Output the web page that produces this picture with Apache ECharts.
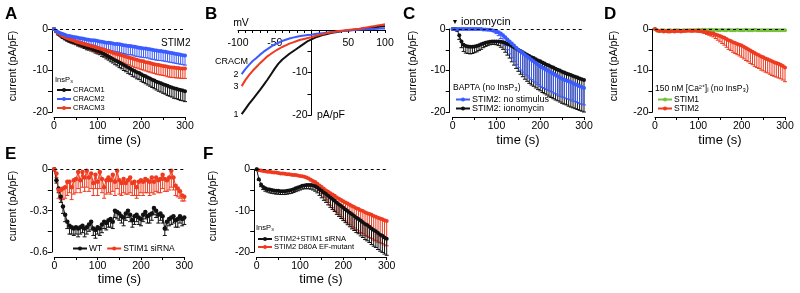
<!DOCTYPE html>
<html><head><meta charset="utf-8">
<script src="https://cdn.jsdelivr.net/npm/echarts@6/dist/echarts.min.js"></script>
<style>html,body{margin:0;padding:0;background:#fff}#c{width:800px;height:293px}</style>
</head><body><div id="c"></div>
<script>
// ---------- DATA ----------
const time = [0,5,10,15,20,25,30,35,40,45,50,55,60,65,70,75,80,85,90,95,100,105,110,115,120,125,130,135,140,145,150,155,160,165,170,175,180,185,190,195,200,205,210,215,220,225,230,235,240,245,250,255,260,265,270,275,280,285,290,295,300];

// Panel A (STIM2, InsP3)
const A_CRACM1 = [0,-0.6,-1.2,-1.6,-2.0,-2.3,-2.6,-2.8,-3.0,-3.2,
-3.4,-3.6,-3.8,-4.0,-4.2,-4.4,-4.5,-4.7,-4.9,-5.1,
-5.3,-5.5,-5.8,-6.0,-6.3,-6.6,-6.9,-7.2,-7.5,-7.8,
-8.1,-8.4,-8.7,-9.0,-9.3,-9.6,-9.9,-10.1,-10.4,-10.6,
-10.9,-11.2,-11.4,-11.7,-11.9,-12.2,-12.4,-12.7,-12.9,-13.1,
-13.3,-13.5,-13.7,-13.9,-14.1,-14.3,-14.4,-14.6,-14.7,-14.8,
-15.0];
const A_CRACM1_err = [0,0.1,0.2,0.2,0.3,0.3,0.3,0.4,0.4,0.4,
0.4,0.5,0.5,0.5,0.5,0.6,0.6,0.6,0.6,0.7,
0.7,0.7,0.8,0.8,0.9,0.9,1.0,1.0,1.1,1.1,
1.2,1.2,1.3,1.3,1.4,1.4,1.5,1.5,1.6,1.6,
1.7,1.7,1.8,1.8,1.9,1.9,2.0,2.0,2.1,2.1,
2.2,2.2,2.3,2.3,2.3,2.4,2.4,2.4,2.5,2.5,
2.5];
const A_CRACM2 = [0,-0.4,-0.8,-1.0,-1.2,-1.4,-1.6,-1.7,-1.8,-1.9,
-2.0,-2.1,-2.2,-2.3,-2.4,-2.5,-2.6,-2.7,-2.7,-2.8,
-2.9,-3.0,-3.1,-3.2,-3.3,-3.3,-3.4,-3.5,-3.6,-3.6,
-3.7,-3.8,-3.9,-4.0,-4.1,-4.1,-4.2,-4.3,-4.4,-4.5,
-4.6,-4.7,-4.7,-4.8,-4.9,-5.0,-5.1,-5.2,-5.3,-5.3,
-5.4,-5.5,-5.6,-5.7,-5.8,-5.9,-6.0,-6.1,-6.2,-6.3,
-6.4];
const A_CRACM2_err = [0,0.1,0.2,0.3,0.4,0.4,0.5,0.5,0.6,0.6,
0.7,0.8,0.8,0.9,1.0,1.0,1.1,1.2,1.2,1.3,
1.4,1.5,1.5,1.6,1.7,1.7,1.8,1.8,1.9,1.9,
2.0,2.0,2.0,2.1,2.1,2.1,2.1,2.2,2.2,2.2,
2.2,2.2,2.2,2.2,2.3,2.3,2.3,2.3,2.3,2.3,
2.3,2.3,2.3,2.3,2.3,2.3,2.3,2.3,2.3,2.3,
2.3];
const A_CRACM3 = [0,-0.5,-1.0,-1.4,-1.7,-2.0,-2.2,-2.4,-2.6,-2.8,
-3.0,-3.2,-3.3,-3.5,-3.6,-3.8,-3.9,-4.1,-4.2,-4.4,
-4.6,-4.7,-4.9,-5.0,-5.2,-5.4,-5.5,-5.7,-5.9,-6.0,
-6.2,-6.3,-6.5,-6.7,-6.8,-7.0,-7.1,-7.3,-7.4,-7.6,
-7.7,-7.8,-8.0,-8.1,-8.2,-8.4,-8.5,-8.6,-8.7,-8.8,
-8.9,-9.0,-9.1,-9.2,-9.3,-9.3,-9.4,-9.4,-9.5,-9.5,
-9.5];
const A_CRACM3_err = [0,0.1,0.2,0.3,0.3,0.4,0.4,0.5,0.5,0.6,
0.6,0.7,0.7,0.8,0.8,0.9,0.9,1.0,1.0,1.1,
1.1,1.2,1.2,1.3,1.3,1.4,1.4,1.5,1.5,1.6,
1.6,1.7,1.7,1.8,1.8,1.9,1.9,2.0,2.0,2.0,
2.1,2.1,2.1,2.2,2.2,2.2,2.2,2.3,2.3,2.3,
2.3,2.3,2.4,2.4,2.4,2.4,2.4,2.4,2.4,2.4,
2.4];

// Panel B (I-V curves)
const B_mV = [-95,-90,-85,-80,-75,-70,-65,-60,-55,-50,-45,-40,-35,-30,-25,-20,-15,-10,-5,0,5,10,15,20,25,30,35,40,45,50,55,60,65,70,75,80,85,90,95,100];
const B_CRACM1 = [-19.8,-18.6,-17.4,-16.3,-15.2,-14.1,-12.9,-11.7,-10.4,-9.1,
-7.9,-7.0,-6.3,-5.6,-5.0,-4.4,-3.8,-3.2,-2.6,-2.2,
-1.8,-1.5,-1.2,-1.0,-0.8,-0.6,-0.45,-0.32,-0.2,-0.1,
0.0,0.1,0.2,0.3,0.4,0.5,0.6,0.7,0.8,0.9];
const B_CRACM2 = [-10.4,-9.2,-8.2,-7.3,-6.6,-5.8,-5.1,-4.5,-3.9,-3.4,
-3.0,-2.6,-2.3,-2.0,-1.8,-1.6,-1.4,-1.3,-1.2,-1.1,
-0.95,-0.85,-0.75,-0.65,-0.55,-0.45,-0.35,-0.27,-0.2,-0.12,
-0.05,0.0,0.05,0.1,0.15,0.2,0.25,0.3,0.33,0.35];
const B_CRACM3 = [-13.2,-11.8,-10.6,-9.6,-8.7,-7.8,-7.0,-6.2,-5.6,-5.0,
-4.5,-4.0,-3.6,-3.2,-2.9,-2.6,-2.3,-2.1,-1.9,-1.7,
-1.4,-1.2,-1.0,-0.8,-0.6,-0.45,-0.3,-0.2,-0.1,0.0,
0.1,0.2,0.3,0.45,0.6,0.75,0.9,1.05,1.2,1.35];

// Panel C (BAPTA, no InsP3)
const C_noStim = [0,0,0,0,0,0,0,0,0,0,
0,0,0,0,-0.1,-0.1,-0.2,-0.2,-0.3,-0.4,
-0.6,-0.8,-1.1,-1.5,-2.0,-2.5,-3.0,-3.5,-4.0,-4.5,
-5.0,-5.4,-5.8,-6.2,-6.6,-7.0,-7.4,-7.8,-8.2,-8.6,
-9.0,-9.3,-9.6,-9.9,-10.2,-10.5,-10.8,-11.1,-11.4,-11.7,
-12.0,-12.2,-12.4,-12.6,-12.8,-13.1,-13.3,-13.5,-13.8,-14.0,
-14.2];
const C_noStim_err = [0,0,0,0,0,0,0,0,0,0,
0,0,0,0,0,0.1,0.1,0.2,0.2,0.3,
0.5,0.8,1.2,1.6,2.0,2.5,3.0,3.4,3.8,4.1,
4.3,4.5,4.6,4.7,4.7,4.8,4.8,4.8,4.8,4.8,
4.8,4.8,4.7,4.7,4.7,4.6,4.6,4.5,4.5,4.5,
4.4,4.4,4.4,4.3,4.3,4.3,4.2,4.2,4.2,4.1,
4.1];
const C_iono = [0,0,-0.2,-1.5,-3.0,-3.8,-4.1,-4.2,-4.3,-4.3,
-4.2,-4.1,-3.9,-3.7,-3.5,-3.3,-3.2,-3.1,-3.0,-3.0,
-3.0,-3.0,-3.1,-3.2,-3.4,-3.6,-3.8,-4.1,-4.4,-4.7,
-5.0,-5.3,-5.6,-5.9,-6.2,-6.5,-6.8,-7.0,-7.3,-7.6,
-7.8,-8.1,-8.3,-8.6,-8.8,-9.1,-9.3,-9.6,-9.8,-10.0,
-10.3,-10.5,-10.7,-10.9,-11.1,-11.3,-11.5,-11.7,-11.9,-12.1,
-12.3];
const C_iono_err = [0,0,0.3,1.0,1.5,1.6,1.7,1.7,1.7,1.6,
1.5,1.4,1.3,1.2,1.0,0.9,0.8,0.7,0.7,0.7,
0.8,1.0,1.3,1.7,2.2,2.7,3.2,3.8,4.3,4.8,
5.2,5.6,5.9,6.2,6.4,6.6,6.7,6.8,6.9,7.0,
7.1,7.2,7.3,7.3,7.4,7.4,7.5,7.5,7.5,7.6,
7.6,7.6,7.6,7.7,7.7,7.7,7.7,7.7,7.7,7.7,
7.7];

// Panel D (150 nM Ca, no InsP3)
const D_STIM1 = [0,-0.4,-0.5,-0.3,-0.3,-0.4,-0.3,-0.3,-0.4,-0.3,
-0.3,-0.3,-0.4,-0.3,-0.3,-0.3,-0.3,-0.3,-0.3,-0.3,
-0.2,-0.3,-0.2,-0.2,-0.3,-0.2,-0.2,-0.3,-0.2,-0.3,
-0.3,-0.2,-0.3,-0.3,-0.2,-0.3,-0.3,-0.3,-0.2,-0.3,
-0.3,-0.3,-0.2,-0.3,-0.3,-0.3,-0.2,-0.3,-0.3,-0.3,
-0.3,-0.3,-0.3,-0.3,-0.3,-0.3,-0.3,-0.3,-0.3,-0.3,
-0.3];
const D_STIM2 = [0,-0.3,-0.5,-0.4,-0.6,-0.5,-0.6,-0.6,-0.5,-0.6,
-0.5,-0.5,-0.6,-0.5,-0.5,-0.4,-0.4,-0.5,-0.4,-0.4,
-0.5,-0.5,-0.6,-0.7,-0.8,-0.9,-1.0,-1.1,-1.3,-1.5,
-1.7,-1.9,-2.1,-2.4,-2.7,-2.9,-3.2,-3.4,-3.6,-3.8,
-4.0,-4.3,-4.6,-4.9,-5.2,-5.5,-5.8,-6.1,-6.3,-6.6,
-6.8,-7.1,-7.3,-7.5,-7.8,-8.0,-8.2,-8.4,-8.6,-8.9,
-9.3];
const D_STIM2_err = [0,0.1,0.1,0.1,0.1,0.1,0.1,0.1,0.1,0.1,
0.1,0.1,0.1,0.1,0.1,0.1,0.1,0.1,0.1,0.1,
0.2,0.2,0.3,0.4,0.5,0.6,0.7,0.8,1.0,1.2,
1.4,1.6,1.8,2.0,2.2,2.3,2.4,2.5,2.6,2.7,
2.8,2.9,3.0,3.0,3.1,3.1,3.2,3.2,3.2,3.3,
3.3,3.3,3.3,3.4,3.4,3.4,3.4,3.4,3.4,3.4,
3.4];

// Panel E (WT vs STIM1 siRNA)
const E_WT = [0,-0.08,-0.14,-0.2,-0.27,-0.33,-0.38,-0.41,-0.42,-0.43,
-0.42,-0.43,-0.42,-0.41,-0.43,-0.42,-0.4,-0.38,-0.43,-0.44,
-0.42,-0.43,-0.4,-0.38,-0.39,-0.37,-0.36,-0.38,-0.3,-0.31,
-0.32,-0.34,-0.35,-0.32,-0.3,-0.33,-0.37,-0.34,-0.33,-0.35,
-0.36,-0.33,-0.31,-0.34,-0.33,-0.32,-0.28,-0.3,-0.33,-0.32,
-0.34,-0.43,-0.38,-0.36,-0.35,-0.34,-0.37,-0.36,-0.34,-0.36,
-0.35];
const E_WT_err = [0,0.02,0.03,0.04,0.05,0.05,0.05,0.06,0.05,0.05,
0.05,0.06,0.05,0.05,0.06,0.05,0.05,0.06,0.05,0.06,
0.05,0.05,0.06,0.05,0.05,0.05,0.06,0.05,0.05,0.05,
0.05,0.05,0.06,0.05,0.05,0.05,0.05,0.06,0.05,0.05,
0.05,0.05,0.05,0.05,0.06,0.05,0.05,0.05,0.06,0.05,
0.05,0.05,0.06,0.05,0.05,0.05,0.05,0.06,0.05,0.05,
0.05];
const E_siRNA = [0,-0.03,-0.15,-0.15,-0.14,-0.13,-0.09,-0.09,-0.13,-0.08,
-0.07,-0.02,-0.08,-0.02,-0.06,-0.01,-0.06,-0.03,-0.1,-0.04,
-0.09,-0.02,-0.07,-0.13,-0.08,-0.06,-0.08,-0.04,-0.09,-0.01,
-0.08,-0.1,-0.07,-0.1,-0.08,-0.06,-0.1,-0.09,-0.13,-0.09,
-0.08,-0.09,-0.07,-0.08,-0.09,-0.06,-0.09,-0.06,-0.08,-0.07,
-0.04,-0.07,-0.08,-0.06,-0.01,-0.06,-0.12,-0.14,-0.16,-0.19,
-0.2];
const E_siRNA_err = [0,0.03,0.06,0.07,0.08,0.08,0.1,0.08,0.09,0.1,
0.1,0.12,0.09,0.11,0.1,0.12,0.1,0.11,0.09,0.1,
0.1,0.12,0.1,0.08,0.1,0.11,0.1,0.12,0.1,0.13,
0.1,0.09,0.1,0.08,0.1,0.11,0.09,0.1,0.08,0.1,
0.09,0.1,0.1,0.09,0.1,0.11,0.09,0.1,0.09,0.1,
0.1,0.09,0.08,0.09,0.12,0.09,0.07,0.06,0.05,0.04,
0.03];

// Panel F (InsP3)
const F_siRNA = [0,-2.4,-3.7,-4.3,-4.6,-4.8,-4.9,-5.0,-5.1,-5.2,
-5.2,-5.3,-5.3,-5.3,-5.2,-5.1,-5.0,-4.8,-4.6,-4.4,
-4.2,-4.0,-3.9,-3.8,-3.8,-3.8,-3.9,-4.1,-4.4,-4.8,
-5.2,-5.6,-6.0,-6.4,-6.8,-7.2,-7.6,-8.1,-8.5,-8.9,
-9.3,-9.7,-10.1,-10.5,-10.9,-11.3,-11.7,-12.0,-12.4,-12.8,
-13.2,-13.5,-13.9,-14.3,-14.7,-15.0,-15.4,-15.8,-16.1,-16.5,
-16.8];
const F_siRNA_err = [0,0.3,0.5,0.6,0.7,0.7,0.8,0.8,0.8,0.8,
0.8,0.8,0.8,0.8,0.8,0.8,0.8,0.8,0.8,0.8,
0.8,0.8,0.8,0.9,0.9,1.0,1.1,1.2,1.3,1.5,
1.7,1.9,2.0,2.2,2.4,2.5,2.6,2.8,2.9,3.0,
3.1,3.2,3.3,3.4,3.5,3.5,3.6,3.6,3.7,3.7,
3.8,3.8,3.8,3.9,3.9,3.9,4.0,4.0,4.0,4.0,
4.0];
const F_D80A = [0,-0.2,-0.3,-0.4,-0.5,-0.6,-0.6,-0.7,-0.8,-0.8,
-0.9,-1.0,-1.0,-1.1,-1.2,-1.2,-1.3,-1.4,-1.4,-1.5,
-1.6,-1.7,-1.8,-2.0,-2.2,-2.5,-2.8,-3.1,-3.5,-3.9,
-4.3,-4.7,-5.1,-5.4,-5.8,-6.1,-6.4,-6.8,-7.1,-7.4,
-7.7,-8.0,-8.3,-8.6,-8.9,-9.1,-9.4,-9.6,-9.9,-10.1,
-10.4,-10.6,-10.8,-11.0,-11.3,-11.5,-11.7,-11.9,-12.1,-12.3,
-12.5];
const F_D80A_err = [0,0,0,0,0,0,0,0,0,0,
0,0,0,0,0,0,0,0,0,0,
0,0,0,0.1,0.2,0.3,0.5,0.7,1.0,1.3,
1.6,2.0,2.3,2.6,2.9,3.2,3.5,3.7,3.9,4.1,
4.3,4.5,4.7,4.8,5.0,5.1,5.2,5.3,5.4,5.5,
5.6,5.6,5.7,5.7,5.8,5.8,5.9,5.9,5.9,6.0,
6.0];

// ---------- STYLE ----------
const FF = '"Liberation Sans", Arial, Helvetica, sans-serif';
const BLACK = '#111111', BLUE = '#3a5cff', RED = '#ee3a1e', GREEN = '#78c040';

function errRender(params, api) {
  const t = api.value(0), v = api.value(1), e = api.value(2);
  if (!e) return null;
  const p0 = api.coord([t, v]), p1 = api.coord([t, v - e]);
  const style = {stroke: api.visual('color'), lineWidth: 1};
  return {type: 'group', children: [
    {type: 'line', shape: {x1: p0[0], y1: p0[1], x2: p1[0], y2: p1[1]}, style},
    {type: 'line', shape: {x1: p1[0] - 2, y1: p1[1], x2: p1[0] + 2, y2: p1[1]}, style}
  ]};
}
const zeroLine = {silent: true, symbol: 'none', label: {show: false}, animation: false,
  lineStyle: {color: '#000', type: [3, 3], width: 1}, data: [{yAxis: 0}]};

function traces(gi, name, vals, errs, color, size, zero) {
  const s = [{type: 'line', name, xAxisIndex: gi, yAxisIndex: gi,
    data: time.map((t, i) => [t, vals[i]]), symbol: 'circle', symbolSize: size || 4, showSymbol: true,
    itemStyle: {color}, lineStyle: {color, width: 1}, z: 3, animation: false}];
  if (zero) s[0].markLine = zeroLine;
  if (errs) s.push({type: 'custom', name: name + ' SEM', xAxisIndex: gi, yAxisIndex: gi,
    data: time.map((t, i) => [t, vals[i], errs[i]]), encode: {x: 0, y: 1},
    renderItem: errRender, itemStyle: {color}, z: 2, clip: false, animation: false});
  return s;
}
function timeX(gi) {
  return {gridIndex: gi, type: 'value', min: 0, max: 300, interval: 50, offset: 5,
    axisLine: {onZero: false, lineStyle: {color: '#000', width: 1}},
    axisTick: {length: 3, lineStyle: {color: '#000'}},
    axisLabel: {formatter: v => (v % 100 === 0 ? String(v) : ''), margin: 4, fontSize: 10.5, color: '#000', fontFamily: FF},
    splitLine: {show: false}};
}
function curY(gi, min, interval, off) {
  return {gridIndex: gi, type: 'value', min, max: 0, interval, offset: off,
    axisLine: {onZero: false, lineStyle: {color: '#000', width: 1}},
    axisTick: {length: 4, lineStyle: {color: '#000'}},
    axisLabel: {formatter: v => { const k = Math.round(v / interval); if (k % 2 !== 0) return ''; const r = Math.round(v * 10) / 10; return r === 0 ? '0' : String(r); },
      margin: 4, fontSize: 10.5, color: '#000', fontFamily: FF},
    splitLine: {show: false}};
}
function txt(x, y, s, size, o) {
  o = o || {};
  return {type: 'text', x, y, rotation: o.rot || 0, silent: true,
    style: {text: s, fontSize: size, fontFamily: FF, fontWeight: o.bold ? 'bold' : 'normal', fill: o.color || '#000',
      align: o.align || 'left', verticalAlign: 'middle'}};
}
function legendBox(data, left, top, size, orient, gap) {
  return {data, orient: orient || 'vertical', left, top, padding: 0, itemGap: gap, itemWidth: 14, itemHeight: 5,
    selectedMode: false, textStyle: {fontSize: size, lineHeight: 8, fontFamily: FF, color: '#000', padding: [0, 0, 0, -3]}};
}
function ivLine(name, vals, color) {
  return {type: 'line', name, xAxisIndex: 1, yAxisIndex: 1, data: B_mV.map((v, i) => [v, vals[i]]),
    showSymbol: false, clip: false, lineStyle: {color, width: 2}, itemStyle: {color}, animation: false};
}

const series = [].concat(
  traces(0, 'CRACM1', A_CRACM1, A_CRACM1_err, BLACK, 4, true),
  traces(0, 'CRACM3', A_CRACM3, A_CRACM3_err, RED, 4),
  traces(0, 'CRACM2', A_CRACM2, A_CRACM2_err, BLUE, 4),
  [ivLine('CRACM1 I-V', B_CRACM1, BLACK), ivLine('CRACM2 I-V', B_CRACM2, BLUE), ivLine('CRACM3 I-V', B_CRACM3, RED)],
  traces(2, 'STIM2: ionomycin', C_iono, C_iono_err, BLACK, 4, true),
  traces(2, 'STIM2: no stimulus', C_noStim, C_noStim_err, BLUE, 4),
  traces(3, 'STIM1', D_STIM1, null, GREEN, 4, true),
  traces(3, 'STIM2', D_STIM2, D_STIM2_err, RED, 4),
  traces(4, 'WT', E_WT, E_WT_err, BLACK, 4.5, true),
  traces(4, 'STIM1 siRNA', E_siRNA, E_siRNA_err, RED, 4.5),
  traces(5, 'STIM2 D80A EF-mutant', F_D80A, F_D80A_err, RED, 4, true),
  traces(5, 'STIM2+STIM1 siRNA', F_siRNA, F_siRNA_err, BLACK, 4)
);

const option = {
  animation: false,
  backgroundColor: '#fff',
  grid: [
    {left: 54, top: 29, width: 131, height: 83},
    {left: 238, top: 30, width: 147, height: 85},
    {left: 452.7, top: 29, width: 131.3, height: 83},
    {left: 655, top: 29, width: 130, height: 83},
    {left: 54.3, top: 169.3, width: 130, height: 82.7},
    {left: 256.7, top: 169.3, width: 130, height: 82.7}
  ],
  xAxis: [
    timeX(0),
    {gridIndex: 1, type: 'value', min: -100, max: 100, interval: 10, position: 'top',
      axisLine: {onZero: false, lineStyle: {color: '#000', width: 1}},
      axisTick: {length: 3, inside: true, lineStyle: {color: '#000'}},
      axisLabel: {inside: true, formatter: v => ((v % 50 === 0 && v !== 0) ? String(v) : ''), margin: 8, fontSize: 10.5, color: '#000', fontFamily: FF},
      splitLine: {show: false}},
    timeX(2), timeX(3), timeX(4), timeX(5)
  ],
  yAxis: [
    curY(0, -20, 5, 2),
    {gridIndex: 1, type: 'value', min: -20, max: 0, interval: 5, position: 'left', offset: -73.5,
      axisLine: {onZero: false, lineStyle: {color: '#000', width: 1}},
      axisTick: {length: 4, lineStyle: {color: '#000'}},
      axisLabel: {formatter: v => ((v === -10 || v === -20) ? String(v) : ''), margin: 4, fontSize: 10.5, color: '#000', fontFamily: FF},
      splitLine: {show: false}},
    curY(2, -20, 5, 3),
    curY(3, -20, 5, 2.5),
    curY(4, -0.6, 0.15, 2.5),
    curY(5, -20, 5, 2.5)
  ],
  legend: [
    legendBox(['CRACM1', 'CRACM2', 'CRACM3'], 56, 86, 7.5, 'vertical', 1),
    legendBox(['STIM2: no stimulus', 'STIM2: ionomycin'], 455, 95, 9, 'vertical', 0),
    legendBox(['STIM1', 'STIM2'], 657, 95, 8.5, 'vertical', 0),
    legendBox(['WT', 'STIM1 siRNA'], 72, 244, 8.5, 'horizontal', 4),
    legendBox(['STIM2+STIM1 siRNA', 'STIM2 D80A EF-mutant'], 257, 235, 7.5, 'vertical', 0)
  ],
  graphic: [
    txt(5, 14, 'A', 17, {bold: true}), txt(205, 14, 'B', 17, {bold: true}), txt(403, 14, 'C', 17, {bold: true}),
    txt(604, 14, 'D', 17, {bold: true}), txt(5, 154, 'E', 17, {bold: true}), txt(203, 154, 'F', 17, {bold: true}),
    txt(13, 66, 'current (pA/pF)', 10.5, {align: 'center', rot: Math.PI / 2}),
    txt(413, 66, 'current (pA/pF)', 10.5, {align: 'center', rot: Math.PI / 2}),
    txt(614, 66, 'current (pA/pF)', 10.5, {align: 'center', rot: Math.PI / 2}),
    txt(13, 206, 'current (pA/pF)', 10.5, {align: 'center', rot: Math.PI / 2}),
    txt(213, 206, 'current (pA/pF)', 10.5, {align: 'center', rot: Math.PI / 2}),
    txt(119.5, 140, 'time (s)', 13, {align: 'center'}),
    txt(518, 140, 'time (s)', 13, {align: 'center'}),
    txt(720, 140, 'time (s)', 13, {align: 'center'}),
    txt(119.5, 279, 'time (s)', 13, {align: 'center'}),
    txt(321, 279, 'time (s)', 13, {align: 'center'}),
    txt(161, 43, 'STIM2', 10),
    txt(55, 80, 'InsP₃', 7.5),
    txt(241, 23, 'mV', 10.5, {align: 'center'}),
    txt(215, 62, 'CRACM', 9),
    txt(236, 75, '2', 9, {align: 'center'}),
    txt(236, 87, '3', 9, {align: 'center'}),
    txt(236, 115, '1', 9, {align: 'center'}),
    txt(317, 115, 'pA/pF', 10.5),
    txt(455, 22, '▼', 7, {align: 'center'}),
    txt(461, 22, 'ionomycin', 11),
    txt(453, 88, 'BAPTA (no InsP₃)', 8.5),
    txt(655, 89, '150 nM [Ca²⁺]ᵢ (no InsP₃)', 8.5),
    txt(256, 228, 'InsP₃', 7.5)
  ],
  series
};
const chart = echarts.init(document.getElementById('c'), null, {renderer: 'canvas'});
chart.setOption(option);
</script></body></html>
